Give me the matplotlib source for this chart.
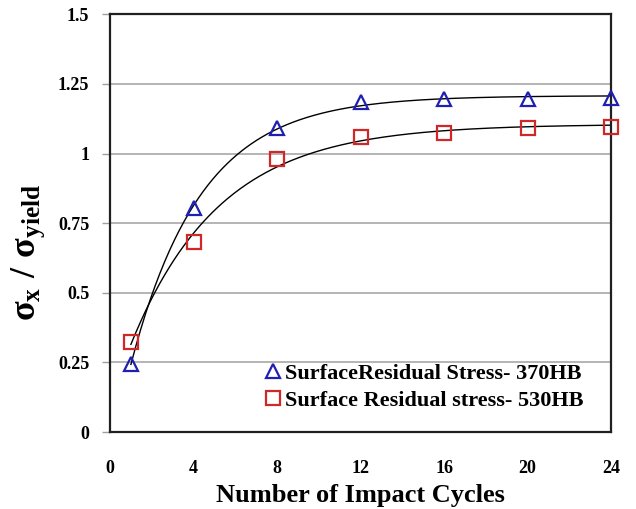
import numpy as np
import matplotlib
matplotlib.use("Agg")
import matplotlib.pyplot as plt

plt.rcParams['font.family'] = 'Liberation Serif'
plt.rcParams['font.weight'] = 'bold'
plt.rcParams['axes.labelweight'] = 'bold'
plt.rcParams['mathtext.fontset'] = 'custom'
plt.rcParams['mathtext.rm'] = 'Liberation Serif:bold'
plt.rcParams['mathtext.it'] = 'Liberation Serif:bold'
plt.rcParams['mathtext.bf'] = 'Liberation Serif:bold'
plt.rcParams['mathtext.default'] = 'rm'

cycles = [1, 4, 8, 12, 16, 20, 24]
stress_370 = [0.245, 0.806, 1.093, 1.185, 1.197, 1.197, 1.201]
stress_530 = [0.324, 0.683, 0.982, 1.060, 1.072, 1.090, 1.096]
label_370 = 'SurfaceResidual Stress- 370HB'
label_530 = 'Surface Residual stress- 530HB'
x_ticks = [0, 4, 8, 12, 16, 20, 24]
y_ticks = [0, 0.25, 0.5, 0.75, 1, 1.25, 1.5]
y_tick_labels = ['0', '0.25', '0.5', '0.75', '1', '1.25', '1.5']


def saturation_fit(x, y):
    # least squares fit of y = a - b*exp(-c*x), c found by scanning
    x = np.asarray(x, float)
    y = np.asarray(y, float)
    best = None
    for c in np.linspace(0.02, 2.0, 4000):
        A = np.column_stack([np.ones_like(x), -np.exp(-c * x)])
        coef, *_ = np.linalg.lstsq(A, y, rcond=None)
        err = np.sum((A @ coef - y) ** 2)
        if best is None or err < best[0]:
            best = (err, coef[0], coef[1], c)
    _, a, b, c = best
    return lambda t: a - b * np.exp(-c * t)


fig = plt.figure(figsize=(6.36, 5.09), dpi=100)
ax = fig.add_axes([0.173, 0.151, 0.788, 0.821])

xs = np.linspace(cycles[0], cycles[-1], 300)
for ys in (stress_370, stress_530):
    f = saturation_fit(cycles, ys)
    ax.plot(xs, f(xs), color='black', lw=1.0, zorder=2)

ax.plot(cycles, stress_370, ls='none', marker='^', ms=10, mfc='none',
        mec='#1f1fb4', mew=1.6, label=label_370, zorder=3, clip_on=False)
ax.plot(cycles, stress_530, ls='none', marker='s', ms=10.5, mfc='none',
        mec='#d02828', mew=1.6, label=label_530, zorder=3, clip_on=False)

ax.set_xlim(0, 24)
ax.set_ylim(0, 1.5)
ax.set_xticks(x_ticks)
ax.set_yticks(y_ticks)
ax.set_yticklabels(y_tick_labels)
ax.yaxis.grid(True, color='#a8a8a8', lw=1.2)
ax.set_axisbelow(True)
ax.tick_params(axis='x', length=0, pad=20, labelsize=13)
ax.tick_params(axis='y', length=6, width=1, color='#a0a0a0', pad=9, labelsize=13)
for s in ax.spines.values():
    s.set_linewidth(1.6)
    s.set_color('#202020')

ax.set_xlabel('Number of Impact Cycles', fontsize=19, fontweight='bold', labelpad=5)
ax.set_ylabel(r'$\sigma_{x}\ /\ \sigma_{yield}$', fontsize=26)
ax.yaxis.set_label_coords(-0.126, 0.43)

leg = ax.legend(loc='lower right', bbox_to_anchor=(0.962, 0.029), frameon=False,
                fontsize=16, handletextpad=-0.1, handlelength=1.3,
                labelspacing=0.3, borderaxespad=0.0)

fig.savefig('out.png', dpi=100)
